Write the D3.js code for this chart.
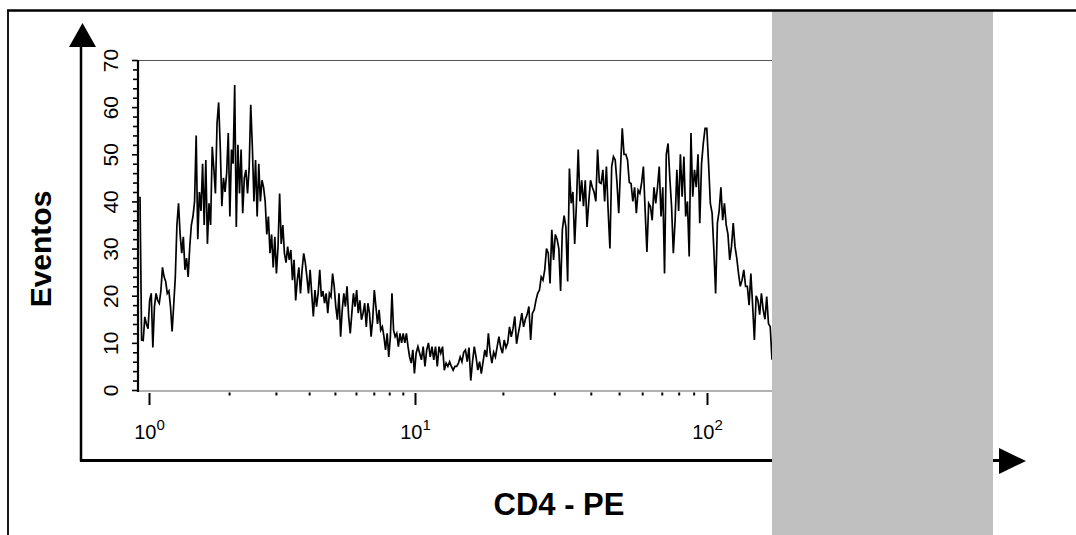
<!DOCTYPE html>
<html><head><meta charset="utf-8">
<script src="https://cdn.jsdelivr.net/npm/d3@7"></script>
<style>html,body{margin:0;padding:0;background:#fff;} svg{display:block}</style>
</head><body><svg id="c" width="1076" height="535"></svg>
<script>
// ---- data (events per channel) ----
const countsLow = [
41, 10.6, 10.5, 15.5, 14, 13, 19, 20.5, 9, 17.7, 20.5, 19,
18.4, 21, 26, 24, 23, 20.5, 21, 17.7, 12.4, 18, 24, 35,
39.6, 33, 29, 32.5, 25.5, 28, 24, 30.4, 35, 36.8,
40, 54, 32, 42, 38, 48, 35, 48.8, 31, 39.6,
35, 51.6, 47, 41.7, 56.6, 61, 51.6, 39, 45, 42,
46, 54.5, 36.8, 51, 48, 64.7, 34.6, 52, 41.7, 51,
37.5, 45, 46.7, 41.7, 47, 60.5, 51.6, 40, 48.8, 36.8,
48, 40, 44.5, 43, 40, 33, 36.8, 29, 33, 26,
32.5, 24.7, 30.4, 41.7, 31, 35, 29, 27, 30.4, 27.6,
29.7, 23.3, 27.6, 19, 23.3, 26, 20.5, 25.5, 29, 27,
24, 20.5, 25.5, 20.5, 15.6, 21.2, 17.7, 20.5, 25.5, 19.8,
21, 18.4, 20.5, 16.3, 20.5, 19.8, 24.7, 22, 17.7, 14.9,
20.5, 11.3, 17, 20.5, 17.7, 22, 15.6, 12, 16.3, 20.5,
17.7, 21.2, 16.3, 19, 14.9, 16.3, 18.4, 13.4, 18.4, 16.3,
11.3, 15, 21.2, 17.7, 14, 17, 12.7, 13.4, 11.3, 8.5,
12, 7, 11.3, 20.5, 12.7, 11.3, 12, 9.2, 12, 10,
12, 10, 12, 9.2, 7, 5.7, 8.5, 3.5, 7.8, 9.2,
7.8, 6.4, 9.2, 5, 8.5, 10, 7, 9.2, 6.4, 9.2,
5, 9.2, 7.8, 9.2, 4.2, 5.7, 5, 6, 5, 4.2,
5, 5, 5.7
];
const countsHigh = [
7, 6, 8, 8.5, 6, 9, 2, 6, 9.2,
7, 4.2, 6, 3.5, 6, 8.5, 7, 12,
8, 5.7, 8, 7, 9.2, 11.3, 9, 7.8,
10.6, 9, 10, 13.4, 11.3, 13, 15.6, 9.8,
12, 14, 16.3, 13.4, 15, 16, 17.7, 10.6,
16.3, 17, 19, 20.5, 21.2, 24, 23.3, 25.5,
30, 29, 22.6, 34, 27.6, 33, 32, 30,
21, 34, 37, 34.6, 23, 47, 39.6, 42,
31, 39.6, 51, 40, 44.5, 39, 44.5, 34.6,
40, 44.5, 43, 42, 40, 51, 44, 43.8,
46.7, 40, 47.4, 38, 30, 47.4, 49.5, 48.8,
44, 37.5, 47, 55.5, 50, 50, 48.8, 44,
43.8, 40, 43, 37.5, 42.4, 41.7, 44, 47.4,
38, 29.3, 39.6, 38.9, 36, 43, 39.6, 43,
47.4, 36.8, 43, 24.7, 50, 52.3, 45, 38.9,
29, 36, 46.7, 38, 50, 41, 49.5, 36.8,
40, 28.3, 54.5, 41, 46.7, 43, 50, 35.4,
48, 52.3, 55.5, 55.5, 48, 39.6, 37.5, 29.7,
20.5, 35.4, 38, 43, 36, 39.6, 35, 33,
27.6, 30.4, 35.4, 30.4, 28, 24.7, 22, 23.3,
25.5, 22, 22, 18, 24.7, 18, 10.6, 20,
19, 16, 20.5, 17, 15, 19.8, 14.1, 13.4, 6.4
];
const channelLogRange = [-0.0338, 2.2226];   // log10 fluorescence of first / last channel
const yMajorValues = [0, 10, 20, 30, 40, 50, 60, 70];
const yMinorValues = [2, 4, 6, 8, 12, 14, 16, 18, 22, 24, 26, 28, 32, 34, 36, 38, 42, 44, 46, 48, 52, 54, 56, 58, 62, 64, 66, 68];
const xMajorValues = [1, 10, 100];
const xMajorExponents = ["0", "1", "2"];
const xMinorValues = [2, 3, 4, 5, 6, 7, 8, 9, 20, 30, 40, 50, 60, 70, 80, 90];
const yTitle = "Eventos";
const xTitle = "CD4 - PE";

// ---- build ----
const counts = countsLow.concat(countsHigh);
const N = counts.length;
const channels = counts.map((c, i) => ({
  f: Math.pow(10, channelLogRange[0] + i * (channelLogRange[1] - channelLogRange[0]) / (N - 1)),
  c: c
}));

const svg = d3.select("#c");
const font = "Arial, 'Liberation Sans', Helvetica, sans-serif";
const plotL = 138, plotR = 772, plotT = 60, plotB = 390;

const x = d3.scaleLog().domain([1, 10, 100]).range([149, 415, 707]);
const y = d3.scaleLinear().domain([0, 70]).range([plotB, plotT]);

// outer border
svg.append("line").attr("x1", 8).attr("x2", 8).attr("y1", 10).attr("y2", 535)
  .attr("stroke", "#000").attr("stroke-width", 1.8);

// big arrows
svg.append("line").attr("x1", 81).attr("x2", 81).attr("y1", 461.5).attr("y2", 44)
  .attr("stroke", "#000").attr("stroke-width", 2.5);
svg.append("path").attr("d", "M69,47 L96,47 L82.5,23 Z").attr("fill", "#000");
svg.append("line").attr("x1", 80).attr("x2", 1002).attr("y1", 460.5).attr("y2", 460.5)
  .attr("stroke", "#000").attr("stroke-width", 3);
svg.append("path").attr("d", "M999,448 L1026,461 L999,474 Z").attr("fill", "#000");

// plot frame (top and bottom)
svg.append("line").attr("x1", plotL).attr("x2", plotR).attr("y1", plotT + 0.5).attr("y2", plotT + 0.5)
  .attr("stroke", "#555").attr("stroke-width", 1.2);
svg.append("line").attr("x1", plotL).attr("x2", plotR).attr("y1", plotB + 1).attr("y2", plotB + 1)
  .attr("stroke", "#666").attr("stroke-width", 1.2);

// y axis
const gyMinor = svg.append("g").attr("transform", `translate(${plotL},0)`)
  .call(d3.axisLeft(y).tickValues(yMinorValues).tickSize(5).tickSizeOuter(0).tickFormat(""));
gyMinor.select(".domain").remove();
gyMinor.selectAll("line").attr("stroke", "#000").attr("stroke-width", 1.6);

const gy = svg.append("g").attr("transform", `translate(${plotL},0)`)
  .attr("font-size", 21).attr("font-family", font)
  .call(d3.axisLeft(y).tickValues(yMajorValues).tickSize(6).tickSizeOuter(0).tickFormat(d3.format("d")));
gy.attr("font-size", 21).attr("font-family", font);
gy.select(".domain").remove();
gy.selectAll("line").attr("stroke", "#000").attr("stroke-width", 1.6);
gy.selectAll("text")
  .attr("transform", "rotate(-90)")
  .attr("x", 0).attr("y", -20).attr("dy", 0)
  .attr("text-anchor", "middle")
  .style("font-family", font).style("font-size", "21px").attr("fill", "#000");
svg.append("line").attr("x1", plotL).attr("x2", plotL).attr("y1", plotT).attr("y2", plotB + 2)
  .attr("stroke", "#000").attr("stroke-width", 2.2);

// x axis
const gxMinor = svg.append("g").attr("transform", `translate(0,${plotB + 1})`)
  .call(d3.axisBottom(x).tickValues(xMinorValues).tickSize(4).tickSizeOuter(0).tickFormat(""));
gxMinor.select(".domain").remove();
gxMinor.selectAll("line").attr("y1", 1.5).attr("y2", 4.5).attr("stroke", "#000").attr("stroke-width", 2);

const gx = svg.append("g").attr("transform", `translate(0,${plotB + 1})`)
  .call(d3.axisBottom(x).tickValues(xMajorValues).tickSize(14).tickSizeOuter(0).tickFormat(() => ""));
gx.select(".domain").remove();
gx.selectAll("line").attr("y1", 2).attr("y2", 14).attr("stroke", "#000").attr("stroke-width", 2);
gx.selectAll(".tick").each(function(d, i) {
  const t = d3.select(this).select("text")
    .attr("y", 48).attr("dy", 0).attr("x", 0)
    .attr("text-anchor", "middle")
    .style("font-family", font).style("font-size", "20px").attr("fill", "#000");
  t.text(null);
  t.append("tspan").text("10");
  t.append("tspan").attr("dy", -9).style("font-size", "15px").text(xMajorExponents[i]);
});

// histogram trace
const line = d3.line().x(d => x(d.f)).y(d => y(d.c));
svg.append("path").datum(channels)
  .attr("d", line)
  .attr("fill", "none").attr("stroke", "#000").attr("stroke-width", 1.7)
  .attr("stroke-linejoin", "miter");

// grey overlay
svg.append("rect").attr("x", plotR).attr("y", 10).attr("width", 993 - plotR).attr("height", 525)
  .attr("fill", "#c0c0c0");

// top border
svg.append("line").attr("x1", 7).attr("x2", 1076).attr("y1", 10.5).attr("y2", 10.5)
  .attr("stroke", "#000").attr("stroke-width", 2.6);

// titles
svg.append("text").attr("transform", "translate(51,249) rotate(-90)")
  .attr("text-anchor", "middle").attr("font-family", font).attr("font-weight", "bold")
  .attr("font-size", 30).attr("fill", "#000").text(yTitle);
svg.append("text").attr("x", 559).attr("y", 515)
  .attr("text-anchor", "middle").attr("font-family", font).attr("font-weight", "bold")
  .attr("font-size", 31).attr("fill", "#000").text(xTitle);
</script>
</body></html>
